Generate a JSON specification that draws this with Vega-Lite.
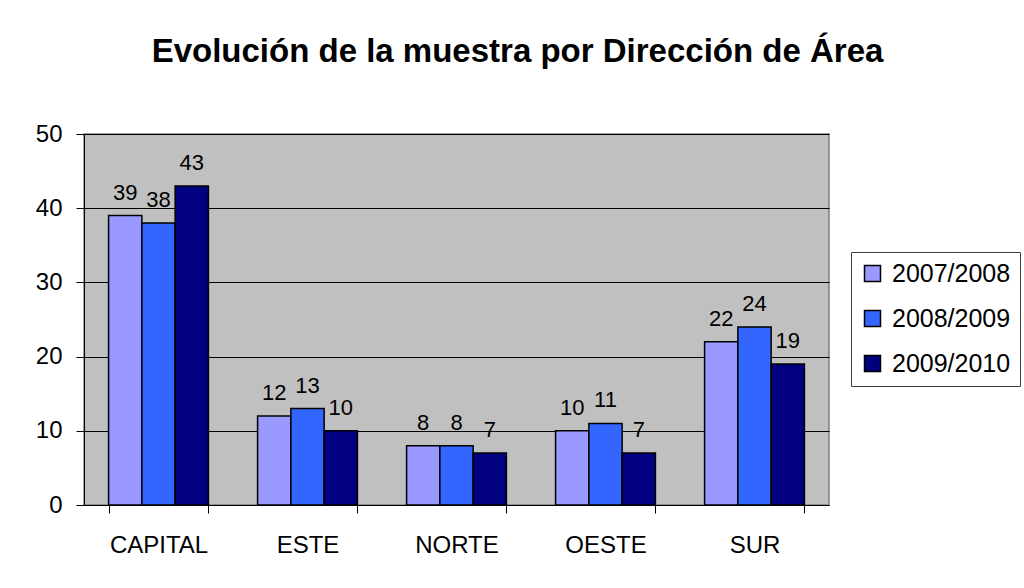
{
  "$schema": "https://vega.github.io/schema/vega-lite/v6.json",
  "width": 745,
  "height": 371,
  "autosize": {"type": "none"},
  "padding": {"left": 84, "top": 134, "right": 195, "bottom": 83},
  "background": "white",
  "title": {
    "text": "Evolución de la muestra por Dirección de Área",
    "font": "Liberation Sans",
    "fontSize": 33,
    "fontWeight": "bold",
    "color": "black",
    "anchor": "middle",
    "dx": 61,
    "offset": 27,
    "baseline": "alphabetic"
  },
  "data": {
    "values": [
      {"area": "CAPITAL", "curso": "2007/2008", "n": 39},
      {"area": "CAPITAL", "curso": "2008/2009", "n": 38},
      {"area": "CAPITAL", "curso": "2009/2010", "n": 43},
      {"area": "ESTE", "curso": "2007/2008", "n": 12},
      {"area": "ESTE", "curso": "2008/2009", "n": 13},
      {"area": "ESTE", "curso": "2009/2010", "n": 10},
      {"area": "NORTE", "curso": "2007/2008", "n": 8},
      {"area": "NORTE", "curso": "2008/2009", "n": 8},
      {"area": "NORTE", "curso": "2009/2010", "n": 7},
      {"area": "OESTE", "curso": "2007/2008", "n": 10},
      {"area": "OESTE", "curso": "2008/2009", "n": 11},
      {"area": "OESTE", "curso": "2009/2010", "n": 7},
      {"area": "SUR", "curso": "2007/2008", "n": 22},
      {"area": "SUR", "curso": "2008/2009", "n": 24},
      {"area": "SUR", "curso": "2009/2010", "n": 19}
    ]
  },
  "encoding": {
    "x": {
      "field": "area",
      "type": "nominal",
      "sort": null,
      "scale": {"paddingInner": 0.33, "paddingOuter": 0.165},
      "axis": {
        "title": null,
        "labelAngle": 0,
        "labelFont": "Liberation Sans",
        "labelFontSize": 24,
        "labelColor": "black",
        "labelPadding": 20,
        "tickBand": "extent",
        "tickColor": "black",
        "tickSize": 8,
        "domainColor": "black",
        "grid": false
      }
    },
    "xOffset": {"field": "curso", "type": "nominal", "scale": {"paddingInner": 0, "paddingOuter": 0}},
    "y": {
      "field": "n",
      "type": "quantitative",
      "scale": {"domain": [0, 50], "nice": false},
      "axis": {
        "title": null,
        "values": [0, 10, 20, 30, 40, 50],
        "labelFont": "Liberation Sans",
        "labelFontSize": 24,
        "labelColor": "black",
        "labelPadding": 14,
        "tickColor": "black",
        "tickSize": 8,
        "domainColor": "black",
        "gridColor": "black",
        "gridOpacity": 1,
        "gridWidth": 1
      }
    }
  },
  "layer": [
    {
      "mark": {"type": "bar", "stroke": "black", "strokeWidth": 1.5},
      "encoding": {
        "color": {
          "field": "curso",
          "type": "nominal",
          "scale": {"range": ["#9999FF", "#3366FF", "#000080"]},
          "legend": {
            "title": null,
            "orient": "none",
            "legendX": 767,
            "legendY": 118,
            "strokeColor": "#404040",
            "fillColor": "white",
            "padding": 9,
            "rowPadding": 19,
            "symbolType": "square",
            "symbolSize": 256,
            "symbolStrokeColor": "black",
            "symbolStrokeWidth": 1.5,
            "labelFont": "Liberation Sans",
            "labelFontSize": 25,
            "labelColor": "black",
            "labelOffset": 7
          }
        }
      }
    },
    {
      "mark": {"type": "text", "baseline": "alphabetic", "dy": -16, "font": "Liberation Sans", "fontSize": 22, "color": "black"},
      "encoding": {"text": {"field": "n", "type": "quantitative"}}
    }
  ],
  "config": {
    "view": {"fill": "#C0C0C0", "stroke": "#808080", "strokeWidth": 1.5}
  }
}
